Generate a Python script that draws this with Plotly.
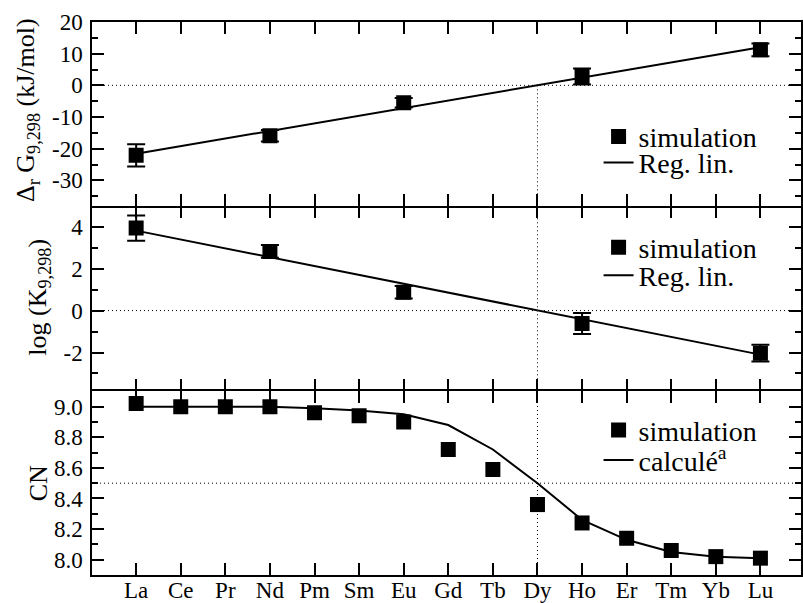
import plotly.graph_objects as go
from plotly.subplots import make_subplots

# ---------------- data ----------------
elements = ["La", "Ce", "Pr", "Nd", "Pm", "Sm", "Eu", "Gd", "Tb", "Dy",
            "Ho", "Er", "Tm", "Yb", "Lu"]

sim_elements = ["La", "Nd", "Eu", "Ho", "Lu"]
dG_sim = [-22.1, -15.9, -5.5, 2.8, 11.2]
dG_err = [3.5, 1.8, 1.5, 2.5, 2.0]

fit_elements = ["La", "Lu"]
dG_fit = [-21.6, 12.0]

logK_sim = [3.93, 2.82, 0.87, -0.62, -2.03]
logK_err = [0.6, 0.3, 0.3, 0.5, 0.4]
logK_fit = [3.81, -2.1]

cn_sim = [9.02, 9.0, 9.0, 9.0, 8.96, 8.94, 8.90, 8.72, 8.59, 8.36,
          8.24, 8.14, 8.06, 8.02, 8.01]
cn_calc = [9.0, 9.0, 9.0, 9.0, 8.99, 8.975, 8.95, 8.88, 8.72, 8.50,
           8.26, 8.13, 8.05, 8.02, 8.01]

zero_level = 0
cn_level = 8.5
ref_element = "Dy"

dG_range = [-38, 20]
logK_range = [-3.85, 5]
cn_range = [7.9, 9.1]

dG_ticks = [-30, -20, -10, 0, 10, 20]
logK_ticks = [-2, 0, 2, 4]
cn_ticks = [8.0, 8.2, 8.4, 8.6, 8.8, 9.0]

# ---------------- figure ----------------
FONT = "Liberation Serif, Times New Roman, Times, serif"
W, H = 803, 603
ML, MR, MT, MB = 92, 0, 22, 27
PW, PH = W - ML - MR, H - MT - MB
XR = [-0.99, 14.91]


def px_x(p):
    return (p - ML) / PW


def px_y(p):
    return (H - MB - p) / PH


idx = {e: i for i, e in enumerate(elements)}
xs_sim = [idx[e] for e in sim_elements]
xs_fit = [idx[e] for e in fit_elements]
xs_all = [idx[e] for e in elements]
x_ref = idx[ref_element]

fig = make_subplots(rows=3, cols=1, vertical_spacing=0)

marker = dict(symbol="square", size=15, color="black", line=dict(width=0))
line = dict(color="black", width=2)

# top panel
fig.add_trace(go.Scatter(x=xs_fit, y=dG_fit, mode="lines", name="Reg. lin.",
                         line=line, legend="legend2"), row=1, col=1)
fig.add_trace(go.Scatter(x=xs_sim, y=dG_sim, mode="markers", name="simulation",
                         marker=marker,
                         error_y=dict(type="data", array=dG_err, color="black",
                                      thickness=2, width=9),
                         legend="legend"), row=1, col=1)

# middle panel
fig.add_trace(go.Scatter(x=xs_fit, y=logK_fit, mode="lines", name="Reg. lin.",
                         line=line, legend="legend4"), row=2, col=1)
fig.add_trace(go.Scatter(x=xs_sim, y=logK_sim, mode="markers", name="simulation",
                         marker=marker,
                         error_y=dict(type="data", array=logK_err, color="black",
                                      thickness=2, width=9),
                         legend="legend3"), row=2, col=1)

# bottom panel
fig.add_trace(go.Scatter(x=xs_all, y=cn_calc, mode="lines",
                         name="calculé<sup>a</sup>",
                         line=line, legend="legend6"), row=3, col=1)
fig.add_trace(go.Scatter(x=xs_all, y=cn_sim, mode="markers", name="simulation",
                         marker=marker, legend="legend5"), row=3, col=1)

b1 = (H - MB - 206) / PH
b2 = (H - MB - 392) / PH

tickfont = dict(family=FONT, size=23, color="black")
xcommon = dict(range=XR, tickmode="array", tickvals=xs_all,
               ticktext=elements, ticks="inside", ticklen=12, tickwidth=1.5,
               tickcolor="black", mirror="allticks", showgrid=False,
               zeroline=False, tickfont=tickfont, linewidth=1.5,
               linecolor="black")
fig.update_xaxes(**xcommon)
fig.update_xaxes(showticklabels=False, showline=True, row=1, col=1)
fig.update_xaxes(showticklabels=False, showline=False, row=2, col=1)
fig.update_xaxes(showline=True, ticklabelstandoff=-6, row=3, col=1)

minor = dict(ticks="inside", ticklen=6, tickwidth=1.5, tickcolor="black")
ycommon = dict(ticks="inside", ticklen=12, tickwidth=1.5, tickcolor="black",
               showline=True, linewidth=1.5, linecolor="black", mirror="ticks",
               showgrid=False, zeroline=False, tickfont=tickfont,
               ticklabelstandoff=3)
fig.update_yaxes(**ycommon)
fig.update_yaxes(range=dG_range, tickvals=dG_ticks,
                 ticktext=[str(v) for v in dG_ticks],
                 minor=dict(dtick=5, tick0=0, **minor),
                 domain=[b1, 1], row=1, col=1)
fig.update_yaxes(range=logK_range, tickvals=logK_ticks,
                 ticktext=[str(v) for v in logK_ticks],
                 minor=dict(dtick=1, tick0=0, **minor),
                 domain=[b2, b1], row=2, col=1)
fig.update_yaxes(range=cn_range, tickvals=cn_ticks,
                 ticktext=[f"{v:.1f}" for v in cn_ticks],
                 minor=dict(dtick=0.1, tick0=0, **minor),
                 domain=[0, b2], row=3, col=1)

dot = dict(color="black", width=1, dash="1px,3px")
shapes = [
    dict(type="line", xref="x", yref="y", x0=XR[0], x1=XR[1],
         y0=zero_level, y1=zero_level, line=dot, layer="below"),
    dict(type="line", xref="x", yref="y", x0=x_ref, x1=x_ref,
         y0=zero_level, y1=dG_range[0], line=dot, layer="below"),
    dict(type="line", xref="x2", yref="y2", x0=XR[0], x1=XR[1],
         y0=zero_level, y1=zero_level, line=dot, layer="below"),
    dict(type="line", xref="x2", yref="y2", x0=x_ref, x1=x_ref,
         y0=logK_range[0], y1=logK_range[1], line=dot, layer="below"),
    dict(type="line", xref="x3", yref="y3", x0=XR[0], x1=XR[1],
         y0=cn_level, y1=cn_level, line=dot, layer="below"),
    dict(type="line", xref="x3", yref="y3", x0=x_ref, x1=x_ref,
         y0=cn_range[0], y1=cn_range[1], line=dot, layer="below"),
]

legfont = dict(family=FONT, size=28, color="black")
legbase = dict(xanchor="left", yanchor="middle", font=legfont,
               bgcolor="rgba(0,0,0,0)", borderwidth=0, itemwidth=30,
               x=px_x(600))

title_font = dict(family=FONT, size=26, color="black")
annots = [
    dict(text="Δ<sub>r</sub> G<sub>9,298</sub> (kJ/mol)", textangle=-90,
         xref="paper", yref="paper", x=px_x(27), y=px_y(110),
         xanchor="center", yanchor="middle", showarrow=False, font=title_font),
    dict(text="log (K<sub>9,298</sub>)", textangle=-90,
         xref="paper", yref="paper", x=px_x(38), y=px_y(298),
         xanchor="center", yanchor="middle", showarrow=False, font=title_font),
    dict(text="CN", textangle=-90,
         xref="paper", yref="paper", x=px_x(38), y=px_y(484),
         xanchor="center", yanchor="middle", showarrow=False, font=title_font),
]

fig.update_layout(
    width=W, height=H,
    margin=dict(l=ML, r=MR, t=MT, b=MB),
    paper_bgcolor="white", plot_bgcolor="white",
    showlegend=True,
    legend=dict(y=px_y(137), **legbase),
    legend2=dict(y=px_y(163), **legbase),
    legend3=dict(y=px_y(248), **legbase),
    legend4=dict(y=px_y(276), **legbase),
    legend5=dict(y=px_y(431), **legbase),
    legend6=dict(y=px_y(461), **legbase),
    shapes=shapes,
    annotations=annots,
    font=dict(family=FONT, color="black"),
)

fig.write_html(
    "out.html",
    config={"displayModeBar": False},
    post_script="document.body.style.margin='0';"
                "document.body.style.overflow='hidden';",
)
